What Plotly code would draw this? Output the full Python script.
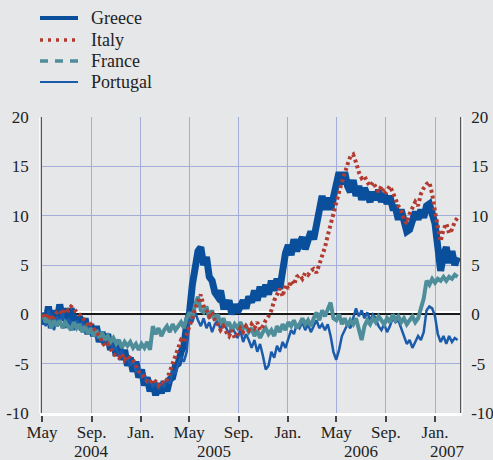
import pandas as pd
import plotly.graph_objects as go

# Weekly observations, first week of May 2004 to end of February 2007
start_date = "2004-05-03"

greece = [
    0.2, -1.0, 0.8, -1.4, 0.4,            # May 2004
    -0.8, 1.0, -0.6, 0.6,                 # Jun
    -1.2, 0.6, -0.4, -1.3,                # Jul
    -0.2, -1.6, -0.4, -2.0, -1.0,         # Aug
    -2.2, -1.2, -2.8, -1.8,               # Sep
    -3.0, -2.0, -3.6, -2.6,               # Oct
    -4.2, -3.0, -4.6, -3.6, -5.2,         # Nov
    -4.4, -5.8, -4.8, -6.4,               # Dec
    -5.6, -7.2, -6.4, -7.8, -6.8,         # Jan 2005
    -8.2, -7.0, -8.0, -6.8,               # Feb
    -7.8, -6.6, -6.4, -5.2,               # Mar
    -5.0, -3.8, -3.2, -1.0,               # Apr
    0.2, 3.0, 4.8, 6.4, 6.8,              # May
    5.0, 5.8, 3.8, 3.4,                   # Jun
    2.2, 1.8, 2.4, 0.8,                   # Jul
    0.8, 1.4, 0.0, 1.0, 0.2,              # Aug
    0.8, 1.4, 0.6, 1.8,                   # Sep
    1.2, 2.4, 1.4, 2.8, 1.8,              # Oct
    3.0, 2.0, 3.4, 2.4,                   # Nov
    3.6, 2.6, 5.0, 6.2,                   # Dec
    7.0, 6.0, 7.6, 6.4, 7.2,              # Jan 2006
    7.8, 6.6, 7.6, 8.4,                   # Feb
    7.6, 9.2, 10.8, 12.0,                 # Mar
    10.6, 11.8, 10.6, 12.0,               # Apr
    13.2, 14.4, 13.2, 14.4, 13.0,         # May
    12.4, 13.6, 12.0, 13.0,               # Jun
    11.6, 12.8, 11.8, 11.4, 12.4,         # Jul
    11.6, 12.6, 11.4, 12.2,               # Aug
    11.2, 12.0, 10.8, 10.8,               # Sep
    9.6, 10.6, 9.0, 8.4, 8.6,             # Oct
    9.8, 10.4, 9.6, 10.6,                 # Nov
    9.8, 11.0, 11.2, 10.0,                # Dec
    9.2, 6.8, 4.4, 6.0, 6.8,              # Jan 2007
    5.2, 6.4, 5.0, 5.8,                   # Feb
]

italy = [
    0.0, -0.4, 0.0, -0.6, -0.2,
    0.2, 0.4, 0.0, 0.6,
    0.4, 0.8, 0.6, 0.2,
    0.0, -0.4, -0.6, -1.2, -1.0,
    -1.4, -1.8, -2.2, -2.8,
    -3.2, -3.0, -3.6, -4.0,
    -4.2, -4.4, -4.0, -4.6, -4.2,
    -4.4, -4.6, -5.2, -5.8,
    -6.0, -6.4, -6.8, -7.0, -6.6,
    -6.8, -7.2, -6.8, -7.0,
    -6.6, -5.8, -5.0, -4.2,
    -3.2, -2.6, -2.8, -2.0,
    -1.4, -0.4, 0.6, 1.4, 2.0,
    0.8, 0.4, -0.2, 0.2,
    -0.6, -1.0, -1.6, -1.2,
    -1.8, -2.2, -1.6, -2.4, -2.0,
    -1.4, -1.8, -1.2, -1.6,
    -1.0, -1.4, -0.8, -1.6, -1.2,
    -0.6, -0.2, 0.4, 1.4,
    2.0, 2.6, 1.8, 3.0,
    2.6, 3.4, 3.0, 3.8, 4.0,
    3.6, 4.2, 4.0, 4.4,
    4.6, 4.2, 5.0, 5.8,
    6.8, 8.0, 9.2, 10.4,
    11.4, 12.4, 13.4, 14.4, 15.2,
    16.0, 16.2, 15.4, 14.4,
    13.8, 14.0, 13.4, 13.0, 13.4,
    12.8, 12.4, 13.0, 12.2,
    12.6, 13.0, 12.4, 11.6,
    11.0, 10.6, 9.6, 9.2, 10.2,
    10.8, 11.4, 11.0, 12.2,
    12.8, 13.2, 13.4, 12.2,
    10.4, 9.0, 7.4, 8.6, 9.2,
    8.2, 8.6, 9.4, 9.8,
]

france = [
    0.0, -0.8, -0.4, -1.4, -0.6,
    -1.2, -0.6, -1.4, -0.8,
    -1.2, -1.6, -0.8, -1.4,
    -1.0, -1.8, -1.2, -2.0, -1.4,
    -2.2, -1.6, -2.4, -1.8,
    -2.6, -2.2, -2.8, -2.4,
    -3.0, -2.6, -3.4, -2.8, -3.2,
    -2.8, -3.4, -3.0, -3.6,
    -3.0, -3.4, -2.8, -3.6, -1.2,
    -2.0, -1.4, -2.2, -1.6,
    -1.2, -1.8, -1.0, -1.6,
    -1.2, -0.8, -1.4, -0.4,
    0.2, -0.4, 1.0, 1.8, 0.4,
    0.2, 0.8, -0.4, 0.4,
    -0.6, 0.0, -1.0, -0.4,
    -1.2, -0.8, -1.6, -1.0, -1.4,
    -0.8, -1.4, -1.2, -1.8,
    -1.4, -2.2, -1.6, -2.4, -1.8,
    -1.4, -2.0, -1.6, -2.2,
    -1.2, -1.8, -1.0, -1.6,
    -0.8, -1.2, -0.6, -1.4, -1.0,
    -0.4, -1.0, -0.6, -1.2,
    -0.4, 0.2, -0.6, 0.4,
    -0.2, 0.6, 1.2, -0.4,
    -0.6, 0.0, -1.0, -0.4, -1.2,
    -0.6, -1.0, -0.4, -1.6,
    -2.6, -1.2, -0.6, -1.0, -0.4,
    -0.8, -0.2, -0.6, -1.0,
    -0.4, -0.8, 0.0, -0.6,
    -0.2, -0.8, -0.4, -1.0, -0.6,
    -0.2, -0.8, -0.4, 0.6,
    1.6, 3.4, 3.0, 3.6,
    3.2, 3.6, 3.4, 3.8, 3.4,
    3.8, 3.6, 4.0, 3.8,
]

portugal = [
    0.0, -1.2, 0.4, -0.6, -1.6,
    -0.2, -1.0, 0.2, -1.4,
    -0.4, -0.8, -1.6, -0.6,
    -1.2, -0.8, -1.8, -1.0, -1.6,
    -1.8, -2.4, -1.6, -2.8,
    -2.4, -3.2, -2.6, -3.6,
    -3.4, -4.2, -3.6, -4.8, -4.4,
    -5.2, -4.6, -5.8, -5.4,
    -6.4, -6.0, -7.0, -6.6, -7.4,
    -6.8, -7.6, -7.0, -7.4,
    -6.6, -7.0, -5.8, -6.0,
    -5.0, -4.4, -4.8, -3.8,
    -0.4, -0.8, 0.2, -0.6, -1.2,
    -0.4, -1.4, -0.8, -1.8,
    -1.0, -0.6, -1.6, -0.8,
    -1.4, -2.0, -1.2, -1.8, -2.4,
    -1.6, -2.8, -2.0, -2.6,
    -3.4, -2.6, -3.8, -3.0, -4.2,
    -5.6, -5.2, -3.8, -4.4,
    -3.2, -3.8, -2.8, -3.4,
    -2.4, -1.6, -2.0, -1.0, -1.4,
    -0.8, -1.6, -1.0, -1.8,
    -1.2, -0.6, -1.4, -1.0,
    -1.6, -1.0, -2.2, -3.8,
    -4.6, -3.6, -2.2, -1.6, -1.0,
    -1.4, -0.4, 0.6, -0.2,
    0.4, -0.4, 0.2, -0.6, 0.0,
    -0.4, -1.2, -1.6, -1.0,
    -1.8, -1.2, -0.4, -0.8,
    -0.6, -1.4, -2.0, -3.0, -2.6,
    -3.4, -2.8, -2.2, -2.6,
    -1.8, 0.4, 0.8, 0.6,
    -0.2, -2.0, -2.8, -2.2, -3.0,
    -2.2, -2.8, -2.4, -2.6,
]

tick_dates = ["2004-05-01", "2004-09-01", "2005-01-01", "2005-05-01", "2005-09-01",
              "2006-01-01", "2006-05-01", "2006-09-01", "2007-01-01"]
tick_text = ["May", "Sep.", "Jan.", "May", "Sep.", "Jan.", "May", "Sep.", "Jan."]
year_labels = ["2004", "2005", "2006", "2007"]
year_centres = ["2004-09-01", "2005-07-02", "2006-07-02", "2007-02-01"]
y_ticks = [-10, -5, 0, 5, 10, 15, 20]
y_text = ["-10", "-5", "0", "5", "10", "15", "20"]

names = ["Greece", "Italy", "France", "Portugal"]
colors = {"Greece": "#0a4f9c", "Italy": "#b13b31", "France": "#4d8e9a", "Portugal": "#1b5bab"}

dates = pd.date_range(start_date, periods=len(greece), freq="7D")

BG = "#e6e7e9"
GRID = "#a3add9"
FONT = "Liberation Serif"
TXT = "#222222"

fig = go.Figure()
fig.add_trace(go.Scatter(x=dates, y=greece, mode="lines",
                         line=dict(color=colors["Greece"], width=7), showlegend=False))
fig.add_trace(go.Scatter(x=dates, y=portugal, mode="lines",
                         line=dict(color=colors["Portugal"], width=2.5), showlegend=False))
fig.add_trace(go.Scatter(x=dates, y=france, mode="lines",
                         line=dict(color=colors["France"], width=4), showlegend=False))
fig.add_trace(go.Scatter(x=dates, y=italy, mode="lines",
                         line=dict(color=colors["Italy"], width=4, dash="3px,3px"),
                         showlegend=False))
# carrier for the right-hand axis
fig.add_trace(go.Scatter(x=[dates[0]], y=[0], yaxis="y2", mode="lines",
                         line=dict(width=0), hoverinfo="skip", showlegend=False))

axis_font = dict(family=FONT, size=17, color=TXT)

fig.update_layout(
    width=493, height=460,
    margin=dict(l=42, r=33, t=117, b=47, autoexpand=False),
    paper_bgcolor=BG, plot_bgcolor=BG,
    showlegend=False,
    xaxis=dict(type="date", range=["2004-05-01", "2007-03-04"],
               tickvals=tick_dates, ticktext=tick_text, automargin=False,
               showgrid=True, gridcolor=GRID, gridwidth=1,
               showline=True, linecolor="#ffffff", linewidth=2.5,
               ticks="outside", ticklen=6, tickwidth=1.5, tickcolor="#444444",
               ticklabelstandoff=-4, tickfont=axis_font, zeroline=False),
    yaxis=dict(range=[-10, 20], tickvals=y_ticks, ticktext=y_text, automargin=False,
               showgrid=True, gridcolor=GRID, gridwidth=1,
               zeroline=True, zerolinecolor="#1a1a1a", zerolinewidth=1.5,
               showline=True, linecolor="#555555", linewidth=1.5,
               ticks="", ticklabelstandoff=8, tickfont=axis_font),
    yaxis2=dict(range=[-10, 20], tickvals=y_ticks, ticktext=y_text, automargin=False,
                overlaying="y", side="right", showgrid=False, zeroline=False,
                showline=True, linecolor="#555555", linewidth=1.5,
                ticks="", ticklabelstandoff=6, tickfont=axis_font),
)

# white highlight just above the zero line and beside the vertical axes
fig.add_shape(type="line", xref="paper", x0=0, x1=1, yref="y", ysizemode="pixel",
              yanchor=0, y0=2, y1=2, line=dict(color="#ffffff", width=2.5), layer="below")
fig.add_shape(type="line", yref="paper", y0=0, y1=1, xref="paper", xsizemode="pixel",
              xanchor=0, x0=-2, x1=-2, line=dict(color="#ffffff", width=1.5))
fig.add_shape(type="line", yref="paper", y0=0, y1=1, xref="paper", xsizemode="pixel",
              xanchor=1, x0=2, x1=2, line=dict(color="#ffffff", width=1.5))

plot_h = 460 - 117 - 47
for label, centre in zip(year_labels, year_centres):
    fig.add_annotation(x=centre, xref="x", y=(413 - 451) / plot_h, yref="paper", text=label,
                       showarrow=False, font=axis_font, xanchor="center", yanchor="middle",
                       borderpad=0)

# legend drawn in paper coordinates above the plot
legend_styles = {
    "Greece": dict(width=4, dash="solid"),
    "Italy": dict(width=3.5, dash="3px,5px"),
    "France": dict(width=3.5, dash="8px,7px"),
    "Portugal": dict(width=2, dash="solid"),
}
row_px = [18, 40, 61, 82]
for name, py in zip(names, row_px):
    yp = (413 - py) / plot_h
    st = legend_styles[name]
    fig.add_shape(type="line", xref="paper", yref="paper",
                  x0=-2 / 418, x1=36 / 418, y0=yp, y1=yp,
                  line=dict(color=colors[name], width=st["width"], dash=st["dash"]))
    fig.add_annotation(x=47 / 418, y=yp, xref="paper", yref="paper", text=name,
                       showarrow=False, xanchor="left", yanchor="middle",
                       font=dict(family=FONT, size=18, color=TXT))

fig.write_html("out.html")
